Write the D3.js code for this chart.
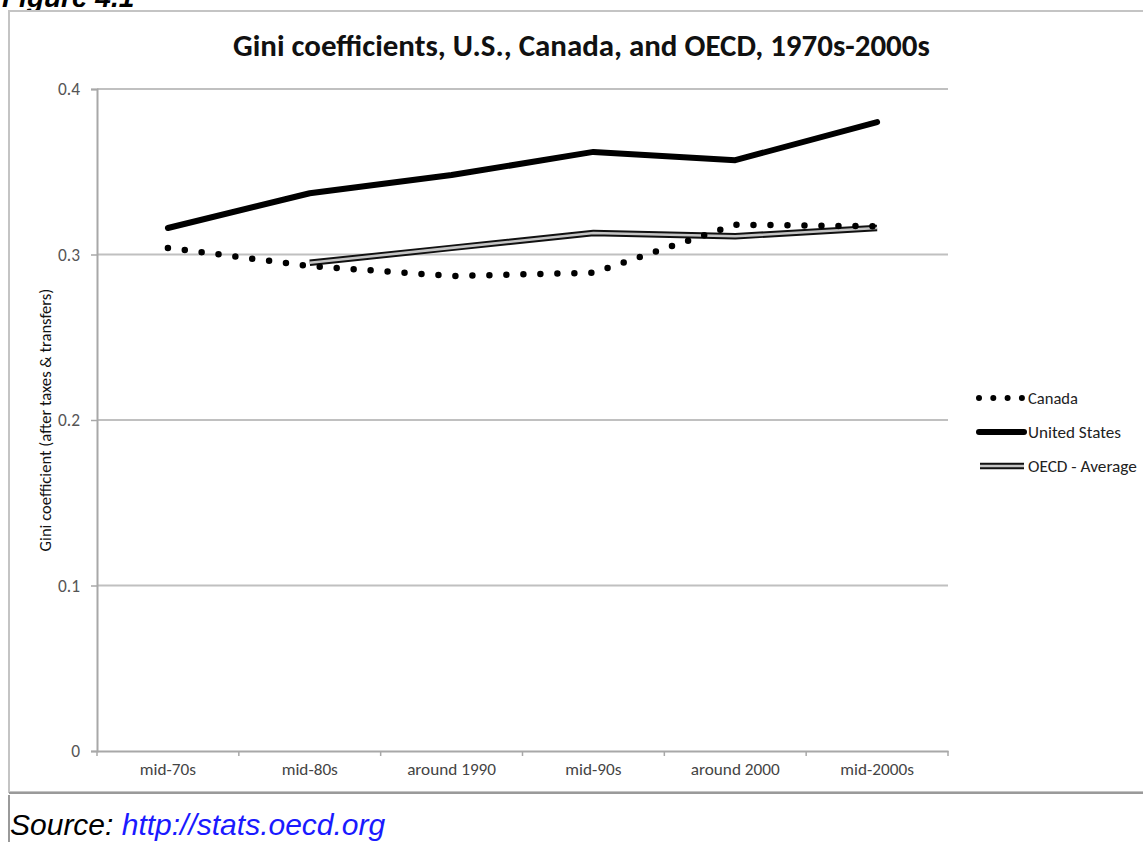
<!DOCTYPE html>
<html>
<head>
<meta charset="utf-8">
<script src="https://cdn.jsdelivr.net/npm/d3@7"></script>
<style>
  html, body { margin: 0; padding: 0; background: #fff; }
  svg { display: block; }
</style>
</head>
<body>
<svg id="chart" width="1143" height="842"></svg>
<script>
// Periods on the horizontal axis
const periods = ["mid-70s", "mid-80s", "around 1990", "mid-90s", "around 2000", "mid-2000s"];

// Gini coefficient after taxes and transfers (null = no figure for that period)
const canada = [0.304, 0.293, 0.287, 0.289, 0.318, 0.317];
const unitedStates = [0.316, 0.337, 0.348, 0.362, 0.357, 0.380];
const oecdAverage = [null, 0.295, 0.304, 0.313, 0.311, 0.316];

const yTicks = [0, 0.1, 0.2, 0.3, 0.4];
const seriesNames = ["Canada", "United States", "OECD - Average"];

const svg = d3.select("#chart");
const W = 1143, H = 842;
const plot = { left: 97, right: 948, top: 89, bottom: 751 };

const x = d3.scaleBand().domain(periods).range([plot.left, plot.right]);
const y = d3.scaleLinear().domain([0, 0.4]).range([plot.bottom, plot.top]);

const calibri = "Carlito, Lato, 'Open Sans', sans-serif";

// Size a text selection so that one sample node spans the wanted width
function fitSize(sel, sample, width) {
  const base = 20;
  sel.attr("font-size", base);
  const len = sample.getComputedTextLength();
  const size = base * width / len;
  sel.attr("font-size", size);
  return size;
}

// Caption above the frame (partly cut by the page edge)
svg.append("text")
  .attr("x", 2).attr("y", 7)
  .attr("font-family", "Liberation Sans, Arial, sans-serif")
  .attr("font-weight", "bold").attr("font-style", "italic")
  .attr("font-size", 28).attr("fill", "#000")
  .text("Figure 4.1");

// Chart frame
svg.append("rect")
  .attr("x", 9).attr("y", 11).attr("width", W + 20).attr("height", 781)
  .attr("fill", "#fff").attr("stroke", "#c4c4c4").attr("stroke-width", 2);
svg.append("line")
  .attr("x1", 9).attr("x2", W).attr("y1", 793).attr("y2", 793)
  .attr("stroke", "#9a9a9a").attr("stroke-width", 2);
svg.append("line")
  .attr("x1", 9).attr("x2", 9).attr("y1", 795).attr("y2", H)
  .attr("stroke", "#9a9a9a").attr("stroke-width", 2);

// Title
const title = svg.append("text")
  .attr("x", 233).attr("y", 56)
  .attr("font-family", calibri).attr("font-weight", "bold")
  .attr("fill", "#111")
  .text("Gini coefficients, U.S., Canada, and OECD, 1970s-2000s");
fitSize(title, title.node(), 697);

// Horizontal gridlines
svg.append("g")
  .selectAll("line")
  .data(yTicks.filter(d => d > 0))
  .join("line")
  .attr("x1", plot.left).attr("x2", plot.right)
  .attr("y1", d => y(d)).attr("y2", d => y(d))
  .attr("stroke", "#c0c0c0").attr("stroke-width", 2);

// Y axis
const yAxis = svg.append("g")
  .attr("transform", `translate(${plot.left},0)`)
  .call(d3.axisLeft(y).tickValues(yTicks).tickFormat(d => d === 0 ? "0" : d3.format(".1f")(d)).tickSize(6).tickPadding(11));
yAxis.select(".domain").attr("stroke", "#a8a8a8").attr("stroke-width", 2);
yAxis.selectAll(".tick line").attr("stroke", "#a8a8a8").attr("stroke-width", 1.5);
const yLabels = yAxis.selectAll("text").attr("font-family", calibri).attr("fill", "#555");
fitSize(yLabels, yLabels.filter(d => d === 0.4).node(), 22);

// X axis
const xAxis = svg.append("g")
  .attr("transform", `translate(0,${plot.bottom})`)
  .call(d3.axisBottom(x).tickSize(0).tickPadding(19));
xAxis.select(".domain").attr("stroke", "#a8a8a8").attr("stroke-width", 2);
const xLabels = xAxis.selectAll("text").attr("font-family", calibri).attr("fill", "#444");
fitSize(xLabels, xLabels.filter(d => d === "around 1990").node(), 89);
xLabels.attr("dy", "0.3em");
// Boundary ticks between periods
const bounds = periods.map(p => x(p) + x.bandwidth()).concat([x(periods[0])]);
xAxis.append("g").selectAll("line")
  .data(bounds)
  .join("line")
  .attr("x1", d => d).attr("x2", d => d)
  .attr("y1", 0).attr("y2", 5)
  .attr("stroke", "#a8a8a8").attr("stroke-width", 1.5);

// Y axis title
const yTitle = svg.append("text")
  .attr("transform", `translate(51,${(plot.top + plot.bottom) / 2}) rotate(-90)`)
  .attr("text-anchor", "middle")
  .attr("font-family", calibri).attr("fill", "#111")
  .text("Gini coefficient (after taxes & transfers)");
fitSize(yTitle, yTitle.node(), 263);

const cx = d => x(d) + x.bandwidth() / 2;
const line = d3.line()
  .defined(d => d.v != null)
  .x(d => cx(d.p))
  .y(d => y(d.v));
const pts = arr => periods.map((p, i) => ({ p, v: arr[i] }));

// OECD average: double line (dark outer, light core)
svg.append("path").datum(pts(oecdAverage))
  .attr("d", line).attr("fill", "none")
  .attr("stroke", "#111").attr("stroke-width", 6.5).attr("stroke-linejoin", "round");
svg.append("path").datum(pts(oecdAverage))
  .attr("d", line).attr("fill", "none")
  .attr("stroke", "#c4c4c4").attr("stroke-width", 2.6).attr("stroke-linejoin", "round");

// Canada: round dots
svg.append("path").datum(pts(canada))
  .attr("d", line).attr("fill", "none")
  .attr("stroke", "#000").attr("stroke-width", 6.5)
  .attr("stroke-linecap", "round").attr("stroke-dasharray", "0 17");

// United States: heavy solid line
svg.append("path").datum(pts(unitedStates))
  .attr("d", line).attr("fill", "none")
  .attr("stroke", "#000").attr("stroke-width", 6)
  .attr("stroke-linejoin", "round").attr("stroke-linecap", "round");

// Legend
const legend = svg.append("g");
const legendY = [398, 432, 466];
const legendWidths = [50, 93, 109];
seriesNames.forEach((name, i) => {
  const g = legend.append("g").attr("transform", `translate(0,${legendY[i]})`);
  if (i === 0) {
    g.append("line").attr("x1", 979).attr("x2", 1022)
      .attr("stroke", "#000").attr("stroke-width", 6)
      .attr("stroke-linecap", "round").attr("stroke-dasharray", "0 14.3");
  } else if (i === 1) {
    g.append("line").attr("x1", 979).attr("x2", 1024)
      .attr("stroke", "#000").attr("stroke-width", 6).attr("stroke-linecap", "round");
  } else {
    g.append("line").attr("x1", 980).attr("x2", 1024)
      .attr("stroke", "#111").attr("stroke-width", 6.5);
    g.append("line").attr("x1", 980).attr("x2", 1024)
      .attr("stroke", "#c4c4c4").attr("stroke-width", 2.6);
  }
  const t = g.append("text").attr("x", 1028).attr("dy", "0.35em")
    .attr("font-family", calibri).attr("fill", "#222")
    .text(name);
  fitSize(t, t.node(), legendWidths[i]);
});

// Source note
const src = svg.append("text")
  .attr("x", 10).attr("y", 835)
  .attr("font-family", "Liberation Sans, Arial, sans-serif")
  .attr("font-style", "italic").attr("font-size", 30);
src.append("tspan").attr("fill", "#000").text("Source: ");
src.append("tspan").attr("fill", "#1a1aff").text("http://stats.oecd.org");
</script>
</body>
</html>
